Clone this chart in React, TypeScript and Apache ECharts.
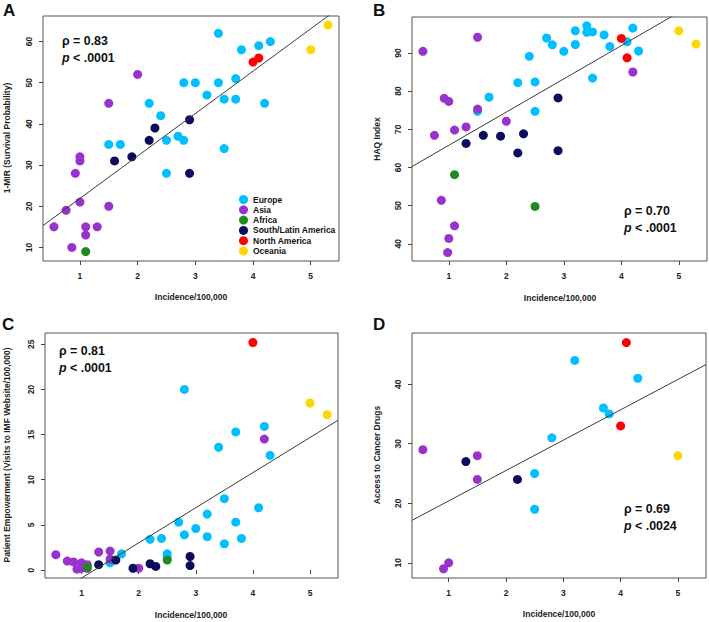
import React, { useEffect, useRef } from "react";
import * as echarts from "echarts";

const regions = ["Europe", "Asia", "Africa", "South/Latin America", "North America", "Oceania"];
const regionColors = ["#00BFFF", "#9932CC", "#1E8B1E", "#0C0C5C", "#FF0000", "#FFD700"];
const xTicks = [1, 2, 3, 4, 5];

// Panel A: 1-MIR (Survival Probability)
const aEurope = [[3.4, 62], [3.8, 58], [4.1, 59], [4.3, 60], [2.2, 45], [2.8, 50], [3.0, 50], [3.4, 50], [3.7, 51], [3.2, 47], [3.5, 46], [3.7, 46], [4.2, 45], [2.4, 42], [2.5, 36], [2.7, 37], [2.8, 36], [3.5, 34], [1.5, 35], [1.7, 35], [2.5, 28]];
const aAsia = [[2.0, 52], [1.5, 45], [1.0, 32], [1.0, 31], [0.92, 28], [1.0, 21], [0.76, 19], [1.5, 20], [0.55, 15], [1.1, 15], [1.3, 15], [1.1, 13], [0.86, 10]];
const aAfrica = [[1.1, 9]];
const aLatAm = [[2.3, 39], [2.9, 41], [2.2, 36], [1.6, 31], [1.9, 32], [2.9, 28]];
const aNorthAm = [[4.0, 55], [4.1, 56]];
const aOceania = [[5.3, 64], [5.0, 58]];
const aYTicks = [10, 20, 30, 40, 50, 60];
const aFit = [11.6, 10.3];

// Panel B: HAQ Index
const bEurope = [[1.5, 74.7], [1.7, 78.4], [2.2, 82.2], [2.5, 82.4], [2.5, 74.7], [2.4, 89.1], [2.7, 93.9], [2.8, 92.1], [3.0, 90.4], [3.2, 95.8], [3.2, 92.2], [3.4, 97.1], [3.4, 95.4], [3.5, 95.5], [3.7, 94.7], [3.8, 91.7], [3.5, 83.4], [4.1, 92.9], [4.2, 96.5], [4.3, 90.5]];
const bAsia = [[0.55, 90.4], [1.5, 94.1], [0.92, 78.1], [1.0, 77.3], [1.5, 75.3], [0.75, 68.4], [1.1, 69.8], [1.3, 70.6], [2.0, 72.1], [4.2, 85.0], [0.87, 51.4], [1.1, 44.7], [1.0, 41.4], [0.98, 37.7]];
const bAfrica = [[1.1, 58.1], [2.5, 49.8]];
const bLatAm = [[2.9, 78.2], [1.6, 68.4], [1.9, 68.2], [2.3, 68.8], [1.3, 66.3], [2.2, 63.8], [2.9, 64.4]];
const bNorthAm = [[4.0, 93.8], [4.1, 88.7]];
const bOceania = [[5.0, 95.8], [5.3, 92.3]];
const bYTicks = [40, 50, 60, 70, 80, 90];
const bFit = [57.1, 8.7];

// Panel C: Patient Empowerment
const cEurope = [[2.8, 20.0], [4.2, 15.9], [3.7, 15.3], [3.4, 13.6], [4.3, 12.7], [3.5, 7.9], [4.1, 6.9], [2.7, 5.3], [3.7, 5.3], [3.2, 6.2], [3.0, 4.6], [2.8, 3.9], [3.2, 3.7], [2.4, 3.5], [2.2, 3.4], [3.8, 3.5], [3.5, 2.9], [2.5, 1.8], [2.5, 1.4], [1.7, 1.8], [1.5, 0.8]];
const cAsia = [[4.2, 14.5], [1.5, 2.1], [1.3, 2.0], [1.5, 1.2], [0.55, 1.7], [0.75, 1.0], [0.86, 0.9], [1.0, 0.8], [1.1, 0.6], [0.92, 0.1], [1.0, 0.2], [1.1, 0.2], [2.0, 0.2]];
const cAfrica = [[2.5, 1.1], [1.1, 0.3]];
const cLatAm = [[1.3, 0.6], [1.6, 1.1], [1.9, 0.2], [2.2, 0.7], [2.3, 0.4], [2.9, 1.5], [2.9, 0.5]];
const cNorthAm = [[4.0, 25.2]];
const cOceania = [[5.0, 18.5], [5.3, 17.2]];
const cYTicks = [0, 5, 10, 15, 20, 25];
const cFit = [-4.77, 3.89];

// Panel D: Access to Cancer Drugs
const dEurope = [[3.2, 44], [4.3, 41], [3.7, 36], [3.8, 35], [2.8, 31], [2.5, 25], [2.5, 19]];
const dAsia = [[0.55, 29], [1.5, 28], [1.5, 24], [1.0, 10], [0.91, 9]];
const dAfrica: number[][] = [];
const dLatAm = [[1.3, 27], [2.2, 24]];
const dNorthAm = [[4.1, 47], [4.0, 33]];
const dOceania = [[5.0, 28]];
const dYTicks = [10, 20, 30, 40];
const dFit = [15.3, 5.1];

const panelLetters = ["A", "B", "C", "D"];
const yTitles = [
  "1-MIR (Survival Probability)",
  "HAQ Index",
  "Patient Empowerment (Visits to IMF Website/100,000)",
  "Access to Cancer Drugs",
];
const xTitle = "Incidence/100,000";
const rhoTexts = ["ρ = 0.83", "ρ = 0.70", "ρ = 0.81", "ρ = 0.69"];
const pTexts = ["< .0001", "< .0001", "< .0001", "< .0024"];

const FONT = "Liberation Sans, Arial, sans-serif";

export default function App() {
  const ref = useRef<HTMLDivElement>(null);
  useEffect(() => {
    document.body.style.margin = "0";
    if (!ref.current) return;
    const chart = echarts.init(ref.current, null, { renderer: "svg" });

    const panels = [
      { data: [aEurope, aAsia, aAfrica, aLatAm, aNorthAm, aOceania], yTicks: aYTicks, fit: aFit, ymin: 6.7, ymax: 66.2 },
      { data: [bEurope, bAsia, bAfrica, bLatAm, bNorthAm, bOceania], yTicks: bYTicks, fit: bFit, ymin: 35.5, ymax: 99.4 },
      { data: [cEurope, cAsia, cAfrica, cLatAm, cNorthAm, cOceania], yTicks: cYTicks, fit: cFit, ymin: -0.88, ymax: 26.25 },
      { data: [dEurope, dAsia, dAfrica, dLatAm, dNorthAm, dOceania], yTicks: dYTicks, fit: dFit, ymin: 7.45, ymax: 48.6 },
    ];
    const xMin = 0.36;
    const xMax = 5.49;

    const grids = [
      { left: 43, top: 16, width: 296, height: 245 },
      { left: 412, top: 17, width: 295, height: 244 },
      { left: 45, top: 333, width: 293, height: 245 },
      { left: 412, top: 333, width: 294, height: 245 },
    ];

    const labelStyle = { fontSize: 8.5, fontWeight: "bold", color: "#222", fontFamily: FONT };

    const xAxis = panels.map((p, i) => ({
      gridIndex: i,
      type: "value",
      min: xMin,
      max: xMax,
      axisLine: { show: false },
      axisTick: { show: true, length: 4, customValues: xTicks, lineStyle: { color: "#444" } },
      axisLabel: { ...labelStyle, customValues: xTicks, margin: 10 },
      splitLine: { show: false },
    }));
    const yAxis = panels.map((p, i) => ({
      gridIndex: i,
      type: "value",
      min: p.ymin,
      max: p.ymax,
      axisLine: { show: false },
      axisTick: { show: true, length: 4, customValues: p.yTicks, lineStyle: { color: "#444" } },
      axisLabel: { ...labelStyle, customValues: p.yTicks, rotate: 90, margin: 10 },
      splitLine: { show: false },
    }));

    const series: any[] = [];
    panels.forEach((p, i) => {
      p.data.forEach((d, j) => {
        series.push({
          type: "scatter",
          name: regions[j],
          xAxisIndex: i,
          yAxisIndex: i,
          data: d,
          symbol: "circle",
          symbolSize: 9,
          itemStyle: { color: regionColors[j], opacity: 1 },
          emphasis: { disabled: true },
          silent: true,
        });
      });
      const [a, b] = p.fit;
      series.push({
        type: "line",
        xAxisIndex: i,
        yAxisIndex: i,
        data: [[xMin, a + b * xMin], [xMax, a + b * xMax]],
        symbol: "none",
        showSymbol: false,
        clip: true,
        lineStyle: { color: "#3a3a3a", width: 1 },
        silent: true,
        z: 5,
      });
    });

    const graphics: any[] = [];
    const letterPos = [[3, 2], [373, 2], [2, 316], [373, 316]];
    const yTitlePos = [[7, 138], [377, 139], [7, 455], [377, 455]];
    const xTitlePos = [[191, 297], [560, 298], [191, 615], [559, 614]];
    const annPos = [[62, 41], [624, 211], [59, 351], [624, 509]];
    panels.forEach((p, i) => {
      graphics.push({
        type: "text",
        x: letterPos[i][0],
        y: letterPos[i][1],
        style: { text: panelLetters[i], font: `bold 17px ${FONT}`, fill: "#111", textAlign: "left", textVerticalAlign: "top" },
      });
      graphics.push({
        type: "text",
        x: yTitlePos[i][0],
        y: yTitlePos[i][1],
        rotation: Math.PI / 2,
        style: { text: yTitles[i], font: `bold 8.5px ${FONT}`, fill: "#222", textAlign: "center", textVerticalAlign: "middle" },
      });
      graphics.push({
        type: "text",
        x: xTitlePos[i][0],
        y: xTitlePos[i][1],
        style: { text: xTitle, font: `bold 8.5px ${FONT}`, fill: "#222", textAlign: "center", textVerticalAlign: "middle" },
      });
      graphics.push({
        type: "text",
        x: annPos[i][0],
        y: annPos[i][1],
        style: { text: rhoTexts[i], font: `bold 12.4px ${FONT}`, fill: "#111", textAlign: "left", textVerticalAlign: "middle" },
      });
      graphics.push({
        type: "text",
        x: annPos[i][0],
        y: annPos[i][1] + 16.5,
        style: {
          text: `{i|p} ${pTexts[i]}`,
          font: `bold 12.4px ${FONT}`,
          fill: "#111",
          textAlign: "left",
          textVerticalAlign: "middle",
          rich: { i: { fontStyle: "italic", fontWeight: "bold", fontSize: 12.4, fontFamily: FONT, fill: "#111" } },
        },
      });
    });

    chart.setOption({
      animation: false,
      backgroundColor: "#fff",
      grid: grids.map((g) => ({ ...g, show: true, borderColor: "#555", borderWidth: 1, backgroundColor: "transparent" })),
      xAxis,
      yAxis,
      legend: {
        data: regions,
        orient: "vertical",
        left: 239,
        top: 195,
        itemWidth: 9,
        itemHeight: 9,
        itemGap: 1.3,
        icon: "circle",
        selectedMode: false,
        padding: 0,
        textStyle: { fontSize: 8.5, fontWeight: "bold", color: "#111", fontFamily: FONT, lineHeight: 9 },
      },
      series,
      graphic: graphics,
    });

    return () => chart.dispose();
  }, []);
  return <div ref={ref} style={{ width: 709, height: 622 }} />;
}
